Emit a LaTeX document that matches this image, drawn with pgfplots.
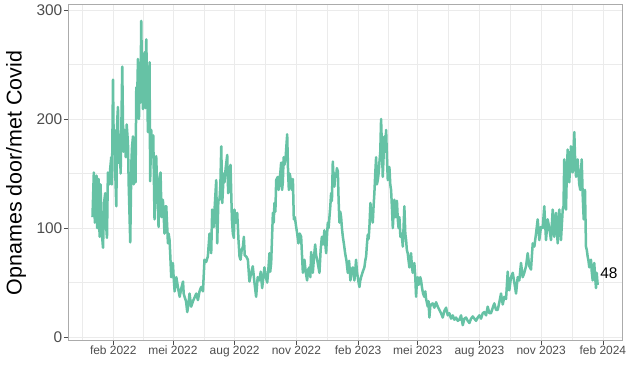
\documentclass[border=0pt]{standalone}
\usepackage{pgfplots}
\pgfplotsset{compat=1.18}
\usepackage{fontspec}
\setmainfont{Liberation Sans}
\definecolor{linec}{HTML}{66C2A5}
\definecolor{gridc}{HTML}{EBEBEB}
\definecolor{borderc}{HTML}{ABABAB}
\definecolor{tickc}{HTML}{4D4D4D}
\begin{document}
\begin{tikzpicture}
\path[use as bounding box] (0,0) rectangle (629bp,389bp);
\begin{axis}[
 at={(68bp,48bp)}, anchor=south west,
 scale only axis, width=554bp, height=336bp,
 xmin=-36.5, xmax=789.5, ymin=-3.5, ymax=304.5,
 xtick={31,120,212,304,396,485,577,669,761},
 xticklabels={feb 2022,mei 2022,aug 2022,nov 2022,feb 2023,mei 2023,aug 2023,nov 2023,feb 2024},
 minor xtick={-15,75.5,166,258,350,440.5,531,623,715},
 ytick={0,100,200,300},
 minor ytick={50,150,250},
 grid=both,
 major grid style={draw=gridc, line width=0.7bp},
 minor grid style={draw=gridc, line width=0.4bp},
 axis line style={draw=borderc, line width=1bp},
 tick align=outside, xtick pos=bottom, ytick pos=left,
 major tick length=4bp, minor tick length=0pt,
 tick style={draw=tickc, line width=0.7bp},
 /pgf/number format/assume math mode=true,
 xticklabel style={font=\fontsize{12}{14}\selectfont, text=tickc, inner sep=1bp},
 yticklabel style={font=\fontsize{15.5}{17}\selectfont, text=tickc, inner sep=1.5bp},
 ylabel={Opnames door/met Covid},
 every axis y label/.style={at={(rel axis cs:0,0.5)}, xshift=-52bp, rotate=90, anchor=center, font=\fontsize{21.5}{24}\selectfont},
 clip=false,
]
\addplot[linec, line width=2.5bp, line join=round, no marks] coordinates {
(0,110)(2,151)(3.5,105)(6,148)(7,100)(9,145)(10.6,92)(12,140)(14,95)(15.7,82)(17.6,125)(19,132)(20.6,100)(21.6,91)(23,151)(25,140)(26.5,155)(28,165)(29,140)(30.6,236)(31.7,175)(33,190)(34,150)(35.5,120)(37,200)(38,211)(39,160)(40.4,184)(42,150)(44.4,248)(46,170)(47.8,190)(49.6,165)(51,195)(52.9,178)(54,140)(56.3,87)(58,160)(59,175)(60.4,184)(61.5,140)(62.7,170)(64.2,142)(65.3,229)(66.5,215)(67.8,255)(69.3,200)(70.5,240)(71.5,215)(72.7,290)(74,230)(75.3,209)(76.4,240)(77.6,261)(79,210)(80.2,273)(81.4,230)(82.7,188)(84,215)(85.1,252)(86,143)(87.6,190)(89,165)(90.6,185)(92.5,108)(94,150)(95,166)(96.6,135)(98.5,101)(100,145)(101.5,151)(103,110)(105,126)(107.4,95)(108.7,120)(110,120)(111.5,100)(112.5,86)(113.5,95)(114.9,89)(116,75)(117.4,55)(118.6,62)(119.9,68)(121,55)(122.5,42)(124,50)(125,55)(127.6,45)(130,37)(132.5,45)(135,51)(136,40)(137.3,37)(139.5,33)(141.3,23)(143,30)(144.7,40)(147.2,28)(149.8,33)(152,36)(154.7,40)(157.2,34)(159.6,42)(162,46)(164.7,42)(167,71)(169.6,69)(172,74)(174.5,95)(177,77)(178.5,117)(181,101)(182,117)(184.5,144)(186,86)(187.7,126)(189.4,126)(190.7,140)(192,175)(193.5,123)(194.5,135)(195.6,150)(196.8,142)(198.6,155)(200.9,167)(202.3,132)(203.4,135)(205.8,158)(207.9,108)(209.3,95)(210.8,91)(211.7,117)(213.5,105)(215.8,114)(217.7,89)(219.2,74)(220.7,71)(222.5,80)(224.3,83)(225.7,92)(227,75)(229.2,74)(231.7,71)(234,51)(236.6,59)(239,65)(241.5,50)(244,37)(246.3,55)(249,52)(250.8,60)(253,45)(256.4,64)(258.5,55)(260.5,50)(262,60)(263.9,77)(265,60)(266.4,68)(269,114)(270.2,105)(271.3,123)(272.7,115)(273.9,144)(276.4,147)(277.6,135)(278.8,142)(280,150)(281.3,160)(282.7,135)(283.8,142)(285,165)(286.2,158)(288,165)(290.3,186)(291.7,150)(292.8,135)(294,150)(295.2,146)(297.3,135)(298.8,145)(300.2,108)(301.7,110)(303.7,101)(305.2,95)(307.1,86)(309,95)(311.1,92)(312.4,75)(313.7,59)(314.9,70)(316,71)(317.9,60)(320,52)(321.6,62)(323.5,64)(324.8,55)(326,78)(327.5,65)(328.5,59)(330.5,75)(332,85)(333.5,75)(335,71)(336.7,65)(338.4,59)(340.2,80)(342,92)(343.9,85)(345.8,98)(347.2,85)(348.4,77)(349.8,95)(350.9,105)(352,100)(353.3,110)(354.6,120)(355.8,132)(357,125)(358.3,161)(359.5,145)(360.7,138)(362,150)(363.3,147)(364.4,155)(365.8,152)(367,125)(368.2,105)(369.5,115)(370.7,110)(371.9,100)(373.3,92)(375,85)(376.7,77)(378.7,70)(380.7,59)(382.6,70)(384.6,52)(386.4,62)(388.2,64)(389.4,58)(390.5,52)(391.9,62)(393,71)(394.3,60)(395.6,55)(396.8,50)(398,46)(399.3,52)(400.5,55)(403,60)(405.4,64)(406.7,70)(408,74)(409.2,85)(410.5,94)(411.7,90)(412.9,101)(414.4,123)(416.2,110)(417.9,105)(419.1,120)(420.3,132)(421.6,150)(422.9,165)(424,140)(425.4,144)(426.6,150)(427.8,160)(429.1,170)(430.3,200)(431.5,175)(432.8,147)(434,165)(435.2,184)(436.5,170)(437.8,190)(439,165)(440.3,144)(441.5,150)(442.7,156)(444,140)(445.2,135)(446.4,120)(447.8,100)(449,115)(450.1,126)(451.5,110)(452.7,114)(453.9,125)(455.2,108)(456.4,100)(457.6,110)(459.1,92)(460.9,95)(462.7,83)(463.8,100)(465,120)(466.4,95)(467.6,89)(468.7,80)(470,77)(471.3,70)(472.5,64)(473.8,72)(475,77)(476.2,65)(477.5,59)(478.7,65)(479.9,68)(481.3,55)(482.5,37)(483.6,50)(485,55)(486.2,48)(487.4,50)(488.7,55)(489.9,52)(491.4,45)(492.9,40)(494.8,37)(496.2,42)(497.4,35)(499.9,28)(501,33)(502.3,18)(503.6,28)(504.8,30)(507.3,31)(509.7,27)(512.3,32)(514.8,28)(517.2,25)(519.7,22)(522.2,18)(524.6,24)(527.2,27)(529.7,20)(532.1,22)(534.6,17)(537.1,20)(539.5,16)(542.1,18)(544.6,15)(547,16)(549.5,20)(552.1,11)(554.5,17)(557,18)(559.5,15)(562,13)(564.4,17)(567,19)(569.4,17)(571.9,15)(574.4,18)(576.8,20)(579.3,17)(581.9,22)(584.2,23)(586.8,20)(589.3,28)(591.7,22)(594.2,22)(596.8,27)(599.1,31)(601.7,25)(604.2,25)(606.6,32)(609.1,40)(611.7,30)(614,37)(616.6,35)(619.1,60)(620.3,45)(621.5,43)(624,55)(626.6,59)(629,50)(631.5,40)(634,55)(636.4,52)(638.9,68)(641.5,55)(643.8,59)(646.4,65)(648.9,77)(651.3,65)(653.8,62)(656.4,86)(658.8,83)(661.3,95)(663.8,108)(666.2,89)(668.7,101)(671.3,100)(673.6,120)(676.2,89)(678.7,108)(681.1,100)(683.6,89)(686.2,117)(688.5,92)(691.1,114)(693.6,86)(696,117)(698.5,89)(701.1,117)(702.3,120)(703.4,163)(704.8,140)(706,117)(707.2,150)(708.5,172)(709.7,155)(710.9,142)(712.3,160)(713.4,175)(714.6,160)(716,151)(717.2,170)(718.4,188)(719.7,160)(721,147)(722.1,155)(723.4,163)(724.6,150)(725.8,140)(727.3,135)(728.3,150)(729.4,163)(730.9,130)(732.4,108)(733.5,120)(734.3,135)(735.8,83)(737,80)(738.3,74)(739.5,70)(740.7,64)(742,68)(743.2,71)(744.4,60)(745.8,52)(746.9,65)(748.1,68)(749.5,55)(750.7,45)(751.8,59)(753.2,48)
};
\node[anchor=west, font=\fontsize{15.5}{17}\selectfont, inner sep=0pt] at (axis cs:757,59) {48};
\end{axis}
\end{tikzpicture}
\end{document}
